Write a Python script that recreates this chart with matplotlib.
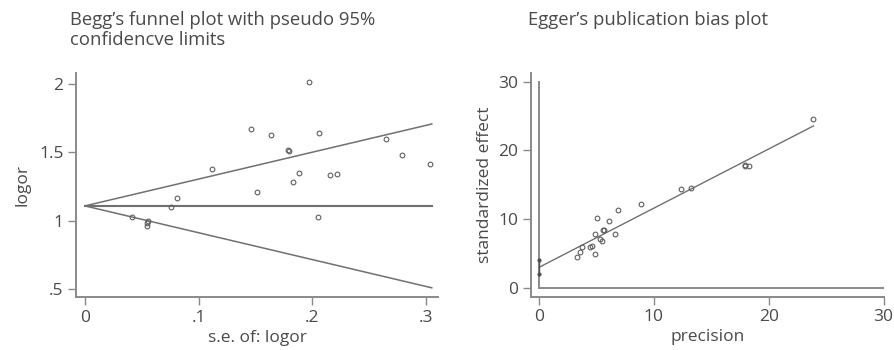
"""
Begg's funnel plot (left) and Egger's publication bias plot (right).
"""
import numpy as np
import matplotlib.pyplot as plt

plt.rcParams["font.family"] = ["Open Sans", "DejaVu Sans"]

# ---- data ----------------------------------------------------------------
# Begg's funnel: standard error vs log odds ratio
se = [0.0416, 0.0542, 0.0548, 0.0554, 0.0754, 0.0806, 0.112, 0.146, 0.1515,
      0.164, 0.1786, 0.1797, 0.183, 0.188, 0.197, 0.205, 0.206, 0.2152,
      0.2219, 0.2644, 0.2785, 0.3034]
logor = [1.031, 0.966, 0.983, 1.000, 1.102, 1.168, 1.380, 1.674, 1.209,
         1.626, 1.520, 1.513, 1.282, 1.350, 2.015, 1.029, 1.642, 1.334,
         1.345, 1.601, 1.484, 1.416]
pooled = 1.11
se_max = 0.305

# Egger's plot: precision vs standardized effect
precision = [3.31, 3.60, 3.77, 4.47, 4.64, 4.88, 4.88, 5.05, 5.28, 5.46,
             5.55, 5.64, 6.10, 6.62, 6.85, 8.89, 12.37, 13.21, 17.94, 17.94,
             18.29, 23.89]
std_effect = [4.58, 5.26, 6.03, 6.03, 6.13, 7.87, 4.97, 10.14, 7.10, 6.90,
              8.41, 8.41, 9.80, 7.87, 11.39, 12.22, 14.39, 14.49, 17.95,
              17.71, 17.71, 24.54]
egger_intercept = 3.04
egger_slope = 0.859
intercept_ci = [2.03, 4.10]

x_ticks_l = [0, 0.1, 0.2, 0.3]
x_labels_l = ["0", ".1", ".2", ".3"]
y_ticks_l = [0.5, 1, 1.5, 2]
y_labels_l = [".5", "1", "1.5", "2"]
ticks_r = [0, 10, 20, 30]

INK = "#4a4a4a"
AX = "#8a8a8a"
LINE = "#707070"
MARK = "#5e5e5e"


def style(ax):
    for s in ("top", "right"):
        ax.spines[s].set_visible(False)
    for s in ("left", "bottom"):
        ax.spines[s].set_color(AX)
        ax.spines[s].set_linewidth(1.4)
    ax.tick_params(direction="out", length=6, width=1.0, color=AX,
                   labelcolor=INK, labelsize=12.5, pad=3)
    ax.set_facecolor("white")


fig = plt.figure(figsize=(8.95, 3.5), dpi=100)

# ---- left: Begg's funnel plot ---------------------------------------------
ax1 = fig.add_axes([0.0849, 0.1514, 0.4045, 0.640])
style(ax1)
ax1.plot([0, se_max], [pooled, pooled], color=LINE, lw=1.5)
ax1.plot([0, se_max], [pooled, pooled + 1.96 * se_max], color=LINE, lw=1.1)
ax1.plot([0, se_max], [pooled, pooled - 1.96 * se_max], color=LINE, lw=1.1)
ax1.plot(se, logor, "o", ms=3.4, mfc="none", mec=MARK, mew=0.8)
ax1.set_xlim(-0.0079, 0.3105)
ax1.set_ylim(0.445, 2.08)
ax1.set_xticks(x_ticks_l, x_labels_l)
ax1.set_yticks(y_ticks_l, y_labels_l)
ax1.set_xlabel("s.e. of: logor", fontsize=12.5, color=INK, labelpad=3)
ax1.set_ylabel("logor", fontsize=12.5, color=INK, labelpad=6)
fig.text(70 / 895, 1 - 11 / 350,
         "Begg\u2019s funnel plot with pseudo 95%\nconfidencve limits",
         ha="left", va="top", fontsize=13.3, color=INK, linespacing=1.12)

# ---- right: Egger's publication bias plot ---------------------------------
ax2 = fig.add_axes([0.5933, 0.1524, 0.3944, 0.6382])
style(ax2)
ax2.plot([0, 0], [0, 30], color=AX, lw=1.4)
ax2.plot([0, 30], [0, 0], color=AX, lw=1.4)
xf = np.array([0, max(precision)])
ax2.plot(xf, egger_intercept + egger_slope * xf, color=LINE, lw=1.0)
ax2.plot([0, 0], intercept_ci, color="#505050", lw=1.0, marker="o", ms=2.0)
ax2.plot(precision, std_effect, "o", ms=3.4, mfc="none", mec=MARK, mew=0.8)
ax2.set_xlim(-0.70, 30.03)
ax2.set_ylim(-1.22, 31.2)
ax2.set_xticks(ticks_r)
ax2.set_yticks(ticks_r)
ax2.set_xlabel("precision", fontsize=12.5, color=INK, labelpad=3)
ax2.set_ylabel("standardized effect", fontsize=12.5, color=INK, labelpad=4)
fig.text(528 / 895, 1 - 11 / 350, "Egger\u2019s publication bias plot",
         ha="left", va="top", fontsize=13.3, color=INK)

fig.savefig("out.png", dpi=100, facecolor="white")
